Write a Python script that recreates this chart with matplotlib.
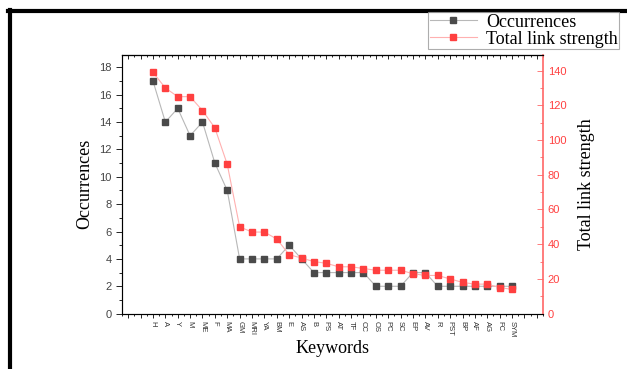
import matplotlib
matplotlib.use("Agg")
import matplotlib.pyplot as plt
from matplotlib.lines import Line2D
import numpy as np

keywords = ["H", "A", "Y", "M", "ME", "F", "MA", "GM", "MRI", "YA", "BM", "E", "AS", "B", "PS",
            "AT", "TF", "CC", "OS", "PC", "SC", "EP", "AV", "R", "PST", "BP", "AF", "AG", "FC", "SYM"]
occurrences = [17, 14, 15, 13, 14, 11, 9, 4, 4, 4, 4, 5, 4, 3, 3,
               3, 3, 3, 2, 2, 2, 3, 3, 2, 2, 2, 2, 2, 2, 2]
link_strength = [139, 130, 125, 125, 117, 107, 86, 50, 47, 47, 43, 34, 32, 30, 29,
                 27, 27, 26, 25, 25, 25, 23, 22, 22, 20, 18, 17, 17, 15, 14]

serif = "Liberation Serif"
sans = "Liberation Sans"
red = "#ff4040"
red_axis = "#ff6666"

x = np.arange(len(keywords))

fig = plt.figure(figsize=(6.27, 3.69), dpi=100)
ax = fig.add_axes([0.1946, 0.150, 0.6714, 0.701])
ax2 = ax.twinx()

l1, = ax.plot(x, occurrences, color="#b8b8b8", lw=0.8, marker="s", ms=5,
              mfc="#4a4a4a", mec="#4a4a4a", label="Occurrences")
l2, = ax2.plot(x, link_strength, color="#ffb0b0", lw=0.8, marker="s", ms=5,
               mfc=red, mec=red, label="Total link strength")

ax.set_xlim(-2.4, 31.4)
ax.set_ylim(0, 18.9)
ax2.set_ylim(0, 149)

# x ticks
major = np.arange(-2, 32)
ax.set_xticks(major)
ax.set_xticklabels([keywords[i] if 0 <= i < len(keywords) else "" for i in major],
                   rotation=270, fontsize=5.5, family=sans, color="#333333")
ax.set_xticks(np.arange(-2.5, 32, 1), minor=True)
ax.tick_params(axis="x", which="major", direction="out", length=3, width=0.6, pad=2)
ax.tick_params(axis="x", which="minor", direction="out", length=1.5, width=0.6)
top = ax.secondary_xaxis("top")
top.set_xticks(major)
top.set_xticklabels([])
top.set_xticks(np.arange(-2.5, 32, 1), minor=True)
top.tick_params(which="major", direction="in", length=3, width=0.6)
top.tick_params(which="minor", direction="in", length=1.5, width=0.6)

# left y
ax.set_yticks(np.arange(0, 19, 2))
ax.set_yticks(np.arange(0, 19, 1), minor=True)
ax.tick_params(axis="y", which="major", direction="out", length=4, width=0.6, labelsize=8, labelcolor="#444444")
ax.tick_params(axis="y", which="minor", direction="out", length=2, width=0.6)
for lab in ax.get_yticklabels():
    lab.set_family(sans)

# right y
ax2.set_yticks(np.arange(0, 141, 20))
ax2.set_yticks(np.arange(0, 141, 10), minor=True)
ax2.tick_params(axis="y", which="major", direction="in", length=4, width=0.6,
                color=red_axis, labelsize=8, labelcolor=red)
ax2.tick_params(axis="y", which="minor", direction="in", length=2, width=0.6, color=red_axis)
for lab in ax2.get_yticklabels():
    lab.set_family(sans)
ax2.spines["right"].set_color(red_axis)
ax2.spines["right"].set_linewidth(1.2)
for s in ["left", "top", "bottom"]:
    ax.spines[s].set_linewidth(0.8)
    ax.spines[s].set_color("#555555")
ax.spines["right"].set_visible(False)

ax.set_xlabel("Keywords", family=serif, fontsize=13, labelpad=2)
ax.set_ylabel("Occurrences", family=serif, fontsize=13, labelpad=4)
ax2.set_ylabel("Total link strength", family=serif, fontsize=13, labelpad=8)

leg = fig.legend(handles=[l1, l2], loc="upper right", bbox_to_anchor=(0.988, 0.968),
                 prop={"family": serif, "size": 13}, frameon=True, fancybox=False,
                 edgecolor="#999999", handlelength=2.6, borderpad=0.1, labelspacing=0.0,
                 handletextpad=0.5, borderaxespad=0)
leg.get_frame().set_linewidth(0.8)

# outer border lines
fig.add_artist(Line2D([0.013, 1.0], [0.97, 0.97], color="black", lw=3, transform=fig.transFigure))
fig.add_artist(Line2D([0.016, 0.016], [0.0, 0.974], color="black", lw=3, transform=fig.transFigure))

fig.savefig("out.png", dpi=100)
